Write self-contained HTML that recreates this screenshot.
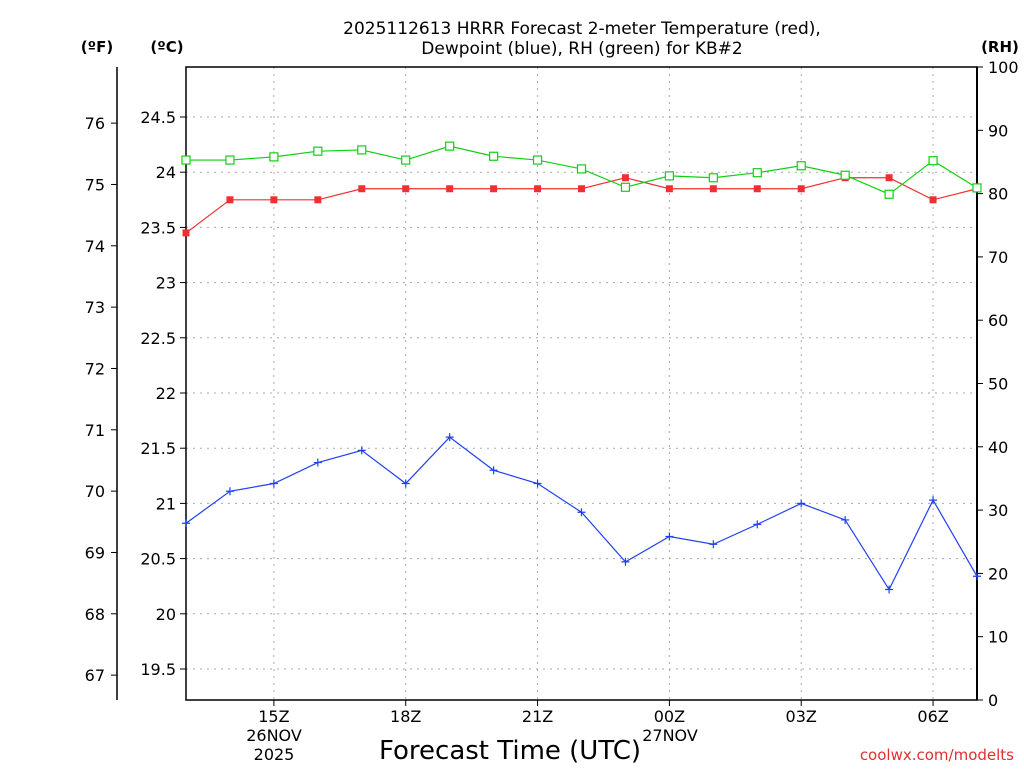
<!DOCTYPE html>
<html><head><meta charset="utf-8"><style>
body{margin:0;background:#fff;}
svg{font-family:"DejaVu Sans","Liberation Sans",sans-serif;}
</style></head><body>
<svg id="c" width="1024" height="768" viewBox="0 0 1024 768" xmlns="http://www.w3.org/2000/svg">
<text x="582" y="34" font-size="17" text-anchor="middle">2025112613 HRRR Forecast 2-meter Temperature (red),</text>
<text x="582" y="54" font-size="17" text-anchor="middle">Dewpoint (blue), RH (green) for KB#2</text>
<text x="97" y="52" font-size="15" font-weight="bold" text-anchor="middle">(ºF)</text>
<text x="167" y="52" font-size="15" font-weight="bold" text-anchor="middle">(ºC)</text>
<text x="1000" y="52" font-size="15" font-weight="bold" text-anchor="middle">(RH)</text>
<text x="510" y="759" font-size="26" text-anchor="middle">Forecast Time (UTC)</text>
<text x="1014" y="760" font-size="15" fill="#e03030" text-anchor="end">coolwx.com/modelts</text>
<g id="grid"></g><g id="axes"></g><g id="series"></g>
</svg>
<script>
const hours=["13","14","15","16","17","18","19","20","21","22","23","00","01","02","03","04","05","06","07"];
const tempC=[23.45,23.75,23.75,23.75,23.85,23.85,23.85,23.85,23.85,23.85,23.95,23.85,23.85,23.85,23.85,23.95,23.95,23.75,23.85];
const dewC=[20.82,21.11,21.18,21.37,21.48,21.18,21.60,21.30,21.18,20.92,20.47,20.70,20.63,20.81,21.0,20.85,20.22,21.03,20.34];
const rh=[85.3,85.3,85.8,86.7,86.9,85.3,87.5,85.9,85.3,83.9,81.0,82.8,82.5,83.3,84.4,82.9,79.9,85.2,80.9];
const cTicks=["19.5","20","20.5","21","21.5","22","22.5","23","23.5","24","24.5"];
const fTicks=["67","68","69","70","71","72","73","74","75","76"];
const rhTicks=["0","10","20","30","40","50","60","70","80","90","100"];
const xLabels=["15Z","18Z","21Z","00Z","03Z","06Z"];
const X0=186,X1=977,Y0=67,Y1=700;
const NS="http://www.w3.org/2000/svg";
const xs=i=>X0+(X1-X0)*i/(hours.length-1);
const yC=c=>117+(24.5-c)*110.4;
const yF=f=>yC((f-32)*5/9);
const yR=r=>Y1-(Y1-Y0)*r/100;
function mk(p,tag,at){const e=document.createElementNS(NS,tag);for(const k in at)e.setAttribute(k,at[k]);p.appendChild(e);return e;}
const G=document.getElementById('grid'),A=document.getElementById('axes'),S=document.getElementById('series');
cTicks.forEach(t=>{const y=yC(+t);
 const g=mk(G,'line',{x1:X0,x2:X1,y1:y,y2:y,stroke:'#aaa','stroke-dasharray':'2,5'});
 
 
 mk(A,'line',{x1:X0-6,x2:X0,y1:y,y2:y,stroke:'#000'});
 const tx=mk(A,'text',{x:X0-10,y:y+6,'font-size':16,'text-anchor':'end'});tx.textContent=t;
 
 });
fTicks.forEach(t=>{const y=yF(+t);
 mk(A,'line',{x1:111,x2:117,y1:y,y2:y,stroke:'#000'});
 const tx=mk(A,'text',{x:105,y:y+6,'font-size':16,'text-anchor':'end'});tx.textContent=t;
 
 });
rhTicks.forEach(t=>{const y=yR(+t);
 mk(A,'line',{x1:X1,x2:X1+6,y1:y,y2:y,stroke:'#000'});
 const tx=mk(A,'text',{x:988,y:y+6,'font-size':16});tx.textContent=t;
 
 });
xLabels.forEach((t,k)=>{const i=2+3*k,x=xs(i);
 const g=mk(G,'line',{x1:x,x2:x,y1:Y0,y2:Y1,stroke:'#aaa','stroke-dasharray':'2,5'});
 
 
 mk(A,'line',{x1:x,x2:x,y1:Y1,y2:Y1+6,stroke:'#000'});
 const tx=mk(A,'text',{x:x,y:722,'font-size':16,'text-anchor':'middle'});tx.textContent=t;
 
 });
[["26NOV",274,741],["2025",274,760],["27NOV",670,741]].forEach(d=>{const tx=mk(A,'text',{x:d[1],y:d[2],'font-size':16,'text-anchor':'middle'});tx.textContent=d[0];
 
 });
const fr=mk(A,'rect',{x:X0,y:Y0,width:X1-X0,height:Y1-Y0,fill:'none',stroke:'#000','stroke-width':1.5});


mk(A,'line',{x1:117,x2:117,y1:Y0,y2:Y1,stroke:'#000','stroke-width':1.5});
mk(A,'line',{x1:X1,x2:X1,y1:Y0,y2:Y1,stroke:'#000','stroke-width':2});
function series(vals,yf,color,name,marker){
 const pl=mk(S,'polyline',{points:vals.map((v,i)=>xs(i)+','+yf(v)).join(' '),fill:'none',stroke:color,'stroke-width':1.2});
 
 
 vals.forEach((v,i)=>{const x=xs(i),y=yf(v);let m;
  if(marker==='fill')m=mk(S,'rect',{x:x-3.5,y:y-3.5,width:7,height:7,fill:color});
  else if(marker==='open')m=mk(S,'rect',{x:x-4,y:y-4,width:8,height:8,fill:'#fff',stroke:color,'stroke-width':1.2});
  else m=mk(S,'path',{d:`M${x-4},${y}H${x+4}M${x},${y-4}V${y+4}`,stroke:color,'stroke-width':1.2});
  
  });
}
series(tempC,yC,'#f03030','temperature','fill');
series(dewC,yC,'#2040f0','dewpoint','plus');
series(rh,yR,'#10d010','rh','open');
</script>
</body></html>
